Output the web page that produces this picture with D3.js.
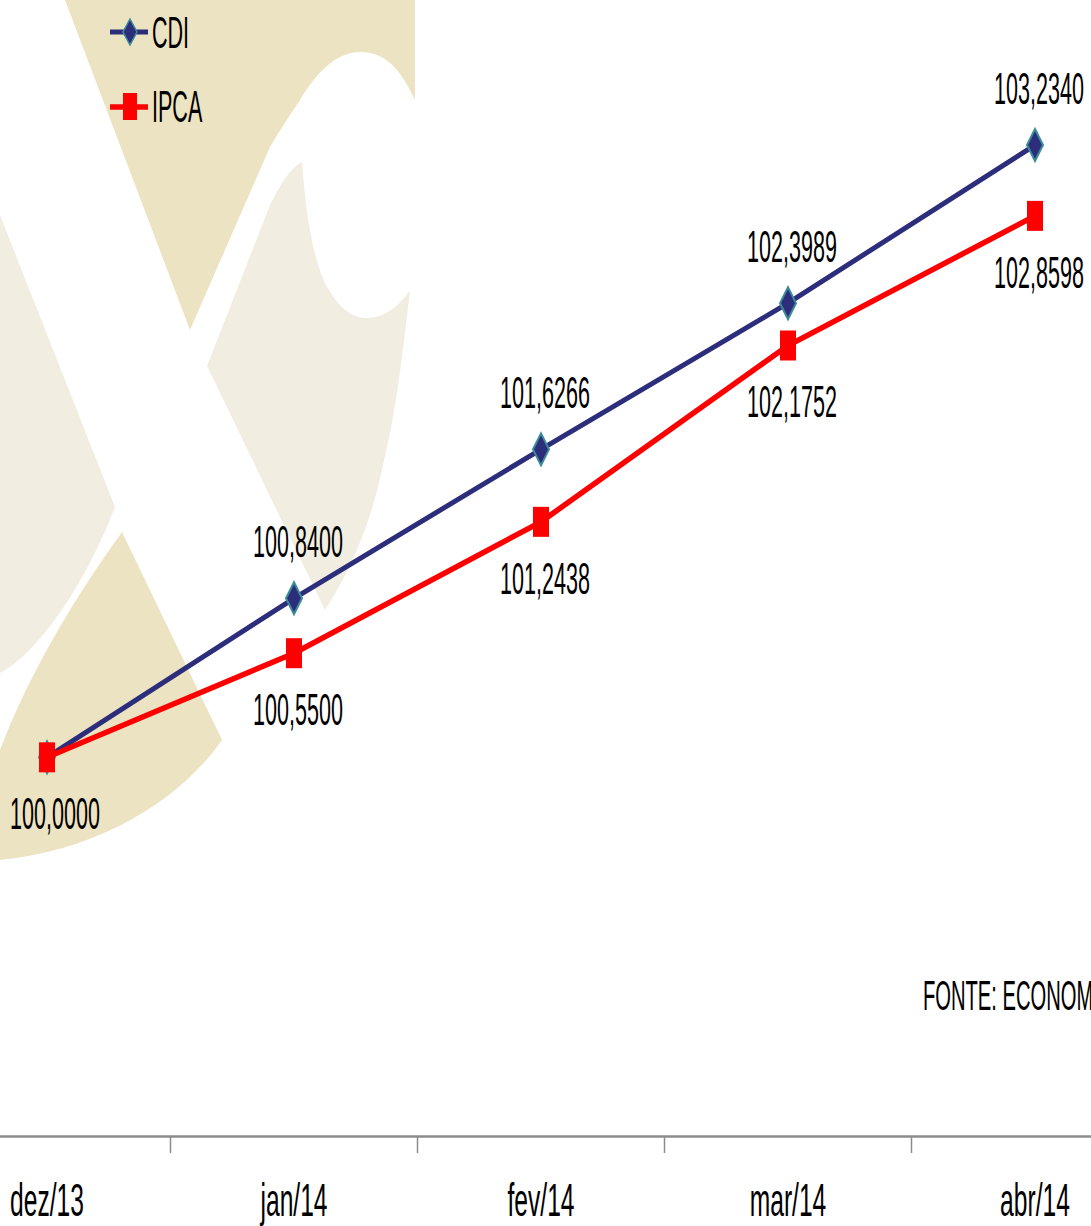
<!doctype html>
<html lang="pt">
<head>
  <meta charset="UTF-8">
  <title>CDI x IPCA</title>
  <style type="text/css">
    * { padding: 0; margin: 0; }
    body { background: #fff; }
    svg { display: block; }
    text { font-family: "Liberation Sans", Arial, sans-serif; fill: #000; }
  </style>
  <script src="https://cdnjs.cloudflare.com/ajax/libs/d3/7.8.5/d3.min.js"></script>
</head>
<body>
  <svg width="1091" height="1226"></svg>
  <script>
    // dados
    var categories = ["dez/13", "jan/14", "fev/14", "mar/14", "abr/14"];
    var cdi = [100.0000, 100.8400, 101.6266, 102.3989, 103.2340];
    var ipca = [100.0000, 100.5500, 101.2438, 102.1752, 102.8598];
    var seriesNames = ["CDI", "IPCA"];
    var fonte = "FONTE: ECONOMATICA";

    var W = 1091, H = 1226;
    var axisY = 1136;
    var fontSize = 44, sx = 0.49;

    var svg = d3.select("svg");

    // marca d'agua de fundo
    var bg = svg.append("g").attr("class", "bg");
    bg.append("path")
      .attr("d", "M65,0 L415,0 L415,100 C400,68 385,52 360,52 C335,52 315,75 300,100 C290,115 280,130 270,147 L190,330 Z")
      .attr("fill", "#ece3c2");
    bg.append("path")
      .attr("d", "M207,366 L270,205 C280,185 290,168 302,162 C305,200 310,250 325,283 C338,308 352,318 367,318 C385,318 400,305 410,290 C400,380 392,430 383,465 C370,530 345,580 325,610 Z")
      .attr("fill", "#f2ede1");
    bg.append("path")
      .attr("d", "M0,215 L115,507 C95,560 50,645 0,673 Z")
      .attr("fill", "#f2ede1");
    bg.append("path")
      .attr("d", "M122,532 L222,740 C180,800 100,850 0,860 L0,750 C30,670 80,590 122,532 Z")
      .attr("fill", "#ece3c2");

    // escalas
    var x = d3.scaleBand()
      .domain(categories)
      .range([-76.5, 1158.5]);
    var cx = function (c) { return x(c) + x.bandwidth() / 2; };

    var y = d3.scaleLinear()
      .domain([98, 104])
      .range([axisY, 0]);

    // eixo x
    var xAxis = d3.axisBottom(x).tickSize(0).tickSizeOuter(0);
    var gx = svg.append("g")
      .attr("transform", "translate(0," + axisY + ")")
      .call(xAxis);
    gx.select(".domain").attr("stroke", "#8c8c8c").attr("stroke-width", 2.5);
    gx.selectAll(".tick text")
      .attr("y", 80)
      .attr("dy", 0)
      .attr("font-size", 46)
      .attr("font-family", "Liberation Sans, Arial, sans-serif")
      .attr("fill", "#000")
      .attr("transform", "scale(0.535,1)");
    gx.selectAll(".sep")
      .data(categories.slice(1))
      .enter()
      .append("line")
      .attr("class", "sep")
      .attr("x1", function (d) { return x(d); })
      .attr("x2", function (d) { return x(d); })
      .attr("y1", 0)
      .attr("y2", 17)
      .attr("stroke", "#8c8c8c")
      .attr("stroke-width", 1.5);

    var fmt = function (v) { return d3.format(".4f")(v).replace(".", ","); };

    function label(g, tx, ty, str, anchor, fs, scx) {
      g.append("text")
        .attr("transform", "translate(" + tx + "," + ty + ") scale(" + (scx || sx) + ",1)")
        .attr("text-anchor", anchor || "middle")
        .attr("font-size", fs || fontSize)
        .text(str);
    }

    var line = d3.line()
      .x(function (d, i) { return cx(categories[i]); })
      .y(function (d) { return y(d); });

    var navy = "#2c2e7c", red = "#ff0000";

    function diamond(w, h) {
      return "M0," + (-h) + "L" + w + ",0L0," + h + "L" + (-w) + ",0Z";
    }

    // CDI
    var gc = svg.append("g");
    gc.append("path")
      .datum(cdi)
      .attr("d", line)
      .attr("fill", "none")
      .attr("stroke", navy)
      .attr("stroke-width", 5);
    gc.selectAll(".mk")
      .data(cdi)
      .enter()
      .append("path")
      .attr("class", "mk")
      .attr("transform", function (d, i) { return "translate(" + cx(categories[i]) + "," + y(d) + ")"; })
      .attr("d", diamond(8, 16))
      .attr("fill", navy)
      .attr("stroke", "#3b8c98")
      .attr("stroke-width", 2);

    // IPCA
    var gi = svg.append("g");
    gi.append("path")
      .datum(ipca)
      .attr("d", line)
      .attr("fill", "none")
      .attr("stroke", red)
      .attr("stroke-width", 5.5);
    gi.selectAll(".mk")
      .data(ipca)
      .enter()
      .append("rect")
      .attr("class", "mk")
      .attr("x", function (d, i) { return cx(categories[i]) - 8; })
      .attr("y", function (d) { return y(d) - 15; })
      .attr("width", 16)
      .attr("height", 30)
      .attr("fill", red);

    // rotulos
    var gl = svg.append("g");
    cdi.forEach(function (v, i) {
      if (i === 0) return;
      label(gl, cx(categories[i]) + 4, y(v) - 41, fmt(v));
    });
    ipca.forEach(function (v, i) {
      label(gl, cx(categories[i]) + (i === 0 ? 8 : 4), y(v) + 72, fmt(v));
    });

    // legenda
    var lg = svg.append("g");
    lg.append("line").attr("x1", 110).attr("x2", 148).attr("y1", 32).attr("y2", 32)
      .attr("stroke", navy).attr("stroke-width", 5);
    lg.append("path").attr("transform", "translate(130,32)").attr("d", diamond(7, 13))
      .attr("fill", navy).attr("stroke", "#3b8c98").attr("stroke-width", 1.5);
    label(lg, 152, 48, seriesNames[0], "start");
    lg.append("line").attr("x1", 110).attr("x2", 148).attr("y1", 107).attr("y2", 107)
      .attr("stroke", red).attr("stroke-width", 5.5);
    lg.append("rect").attr("x", 123).attr("y", 93).attr("width", 14).attr("height", 27)
      .attr("fill", red);
    label(lg, 152, 122, seriesNames[1], "start");

    // fonte
    label(svg, 923, 1010, fonte, "start", 42, 0.48);
  </script>
</body>
</html>
